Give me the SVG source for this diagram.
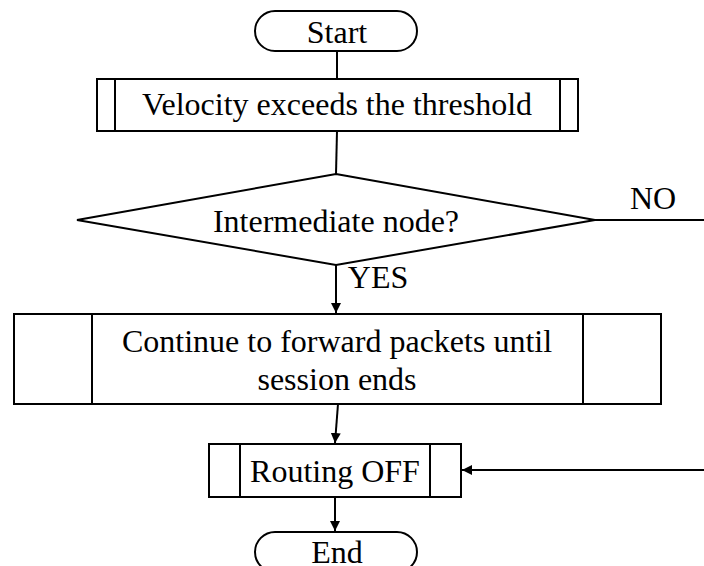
<svg xmlns="http://www.w3.org/2000/svg" width="704" height="566" viewBox="0 0 704 566">
  <style>
    .shape { fill: #ffffff; stroke: #000000; stroke-width: 2; }
    .edge { fill: none; stroke: #000000; stroke-width: 2; }
    .label { font-family: "Liberation Serif", "Times New Roman", serif; font-size: 32px; fill: #000000; text-anchor: middle; }
  </style>
  <defs>
    <marker id="arrow" viewBox="0 0 10 10" refX="10" refY="5" markerWidth="10" markerHeight="10" markerUnits="userSpaceOnUse" orient="auto">
      <path d="M0,0 L10,5 L0,10 z" fill="#000000"/>
    </marker>
  </defs>
  <rect width="704" height="566" fill="#ffffff"/>

  <!-- connectors -->
  <g id="connectors">
    <line class="edge" x1="337" y1="51" x2="337" y2="79"/>
    <line class="edge" x1="337" y1="131" x2="336" y2="174"/>
    <line class="edge" x1="336" y1="265" x2="336" y2="313" marker-end="url(#arrow)"/>
    <line class="edge" x1="595" y1="220" x2="704" y2="220"/>
    <line class="edge" x1="338" y1="404" x2="335" y2="443" marker-end="url(#arrow)"/>
    <line class="edge" x1="704" y1="470" x2="462" y2="470" marker-end="url(#arrow)"/>
    <line class="edge" x1="335" y1="497" x2="335" y2="531" marker-end="url(#arrow)"/>
    <text class="label" x="653" y="209">NO</text>
    <text class="label" x="378" y="288">YES</text>
  </g>

  <!-- start terminal -->
  <g id="start">
    <rect class="shape" x="255" y="11" width="162" height="40" rx="20" ry="20"/>
    <text class="label" x="337" y="43">Start</text>
  </g>

  <!-- predefined process: velocity check -->
  <g id="velocity">
    <rect class="shape" x="97" y="79" width="481" height="52"/>
    <line class="edge" x1="115" y1="79" x2="115" y2="131"/>
    <line class="edge" x1="560" y1="79" x2="560" y2="131"/>
    <text class="label" x="337" y="115">Velocity exceeds the threshold</text>
  </g>

  <!-- decision -->
  <g id="decision">
    <polygon class="shape" points="336,174 595,220 336,265 77,220"/>
    <text class="label" x="336" y="232">Intermediate node?</text>
  </g>

  <!-- predefined process: forwarding -->
  <g id="forward">
    <rect class="shape" x="14" y="314" width="647" height="90"/>
    <line class="edge" x1="92" y1="314" x2="92" y2="404"/>
    <line class="edge" x1="583" y1="314" x2="583" y2="404"/>
    <text class="label" x="337" y="352">Continue to forward packets until</text>
    <text class="label" x="337" y="390">session ends</text>
  </g>

  <!-- predefined process: routing off -->
  <g id="routing">
    <rect class="shape" x="209" y="444" width="252" height="53"/>
    <line class="edge" x1="240" y1="444" x2="240" y2="497"/>
    <line class="edge" x1="430" y1="444" x2="430" y2="497"/>
    <text class="label" x="335" y="482">Routing OFF</text>
  </g>

  <!-- end terminal -->
  <g id="end">
    <rect class="shape" x="255" y="532" width="162" height="40" rx="20" ry="20"/>
    <text class="label" x="337" y="563">End</text>
  </g>
</svg>
